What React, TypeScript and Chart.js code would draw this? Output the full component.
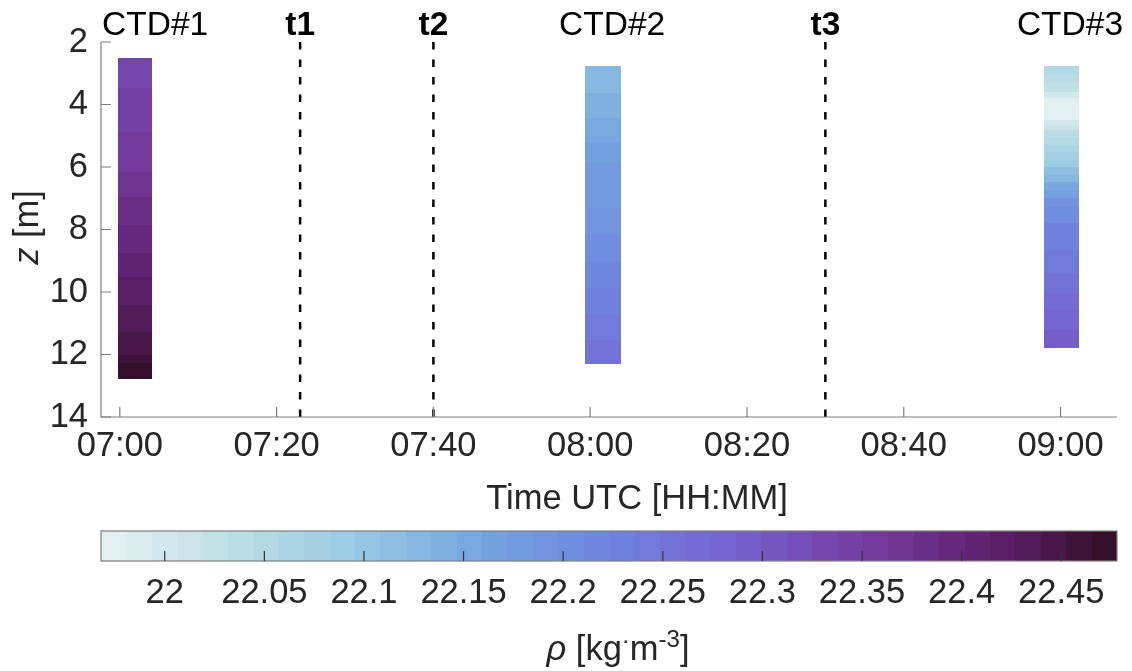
import React, { useEffect, useRef } from 'react';
import { Chart, registerables } from 'chart.js';

Chart.register(...registerables);

const FONT = '"Liberation Sans", Arial, Helvetica, sans-serif';
const TEXT = '#262626';
const AXIS = '#7f7f7f';
const FS = 34.5;

// ---- time axis (minutes after 07:00 UTC) ----
const X_MIN = -2.4;
const X_MAX = 127.2;
const X_TICKS = [0, 20, 40, 60, 80, 100, 120];
const X_TICK_LABELS = ['07:00', '07:20', '07:40', '08:00', '08:20', '08:40', '09:00'];
const X_TITLE = 'Time UTC [HH:MM]';

// ---- depth axis ----
const Y_MIN = 2;
const Y_MAX = 14;
const Y_TICKS = [2, 4, 6, 8, 10, 12, 14];

// ---- event markers ----
const EVENT_LABELS = ['t1', 't2', 't3'];
const EVENT_TIMES = [23, 40, 90];

// ---- casts ----
const CAST_LABELS = ['CTD#1', 'CTD#2', 'CTD#3'];
const CAST_LABEL_TIMES = [4.5, 62.8, 121.2];
const CAST_START = [-0.25, 59.4, 117.9];
const CAST_END = [4.1, 63.9, 122.3];

// layer edges (m) and density (kg m^-3) per cast
const CTD1_Z = [2.52, 3.48, 4.87, 6.15, 6.95, 7.86, 8.75, 9.51, 10.42, 11.27, 12.02, 12.28, 12.79];
const CTD1_RHO = [22.331, 22.344, 22.357, 22.369, 22.382, 22.395, 22.408, 22.42, 22.433, 22.446, 22.459, 22.471];

const CTD2_Z = [2.76, 3.64, 4.44, 5.19, 5.88, 7.32, 8.18, 9.03, 9.88, 10.74, 11.54, 12.29];
const CTD2_RHO = [22.127, 22.14, 22.153, 22.166, 22.178, 22.191, 22.204, 22.217, 22.229, 22.242, 22.255];

const CTD3_Z = [2.76, 3.06, 3.32, 3.59, 3.8, 4.5, 4.66, 4.82, 5.03, 5.3, 5.51, 5.78, 5.99, 6.26, 6.47, 6.74, 7.0, 7.27, 7.8, 8.66, 9.4, 10.04, 10.58, 11.22, 11.78];
const CTD3_RHO = [22.051, 22.038, 22.025, 22.0, 21.974, 22.0, 22.012, 22.038, 22.051, 22.064, 22.076, 22.089, 22.115, 22.127, 22.153, 22.166, 22.191, 22.204, 22.229, 22.242, 22.255, 22.268, 22.28, 22.293];

const CAST_Z = [CTD1_Z, CTD2_Z, CTD3_Z];
const CAST_RHO = [CTD1_RHO, CTD2_RHO, CTD3_RHO];

// ---- colour bar ----
const CBAR_MIN = 21.968;
const CBAR_MAX = 22.478;
const CBAR_LEVELS = 40;
const CBAR_TICKS = [22, 22.05, 22.1, 22.15, 22.2, 22.25, 22.3, 22.35, 22.4, 22.45];
const CBAR_TICK_LABELS = ['22', '22.05', '22.1', '22.15', '22.2', '22.25', '22.3', '22.35', '22.4', '22.45'];

// cmocean "dense"-like colormap stops
const CMAP_POS = [0, 0.125, 0.25, 0.375, 0.5, 0.625, 0.75, 0.875, 1];
const CMAP_RGB = [
  [230, 241, 241],
  [190, 223, 230],
  [154, 202, 225],
  [117, 163, 224],
  [111, 132, 222],
  [118, 98, 207],
  [116, 60, 158],
  [94, 32, 110],
  [48, 14, 34],
];

function cmapAt(f: number): string {
  const t = Math.max(0, Math.min(1, f));
  let i = 0;
  while (i < CMAP_POS.length - 2 && t > CMAP_POS[i + 1]) i++;
  const a = CMAP_POS[i];
  const b = CMAP_POS[i + 1];
  const u = (t - a) / (b - a);
  const c = CMAP_RGB[i].map((v, k) => Math.round(v + (CMAP_RGB[i + 1][k] - v) * u));
  return `rgb(${c[0]},${c[1]},${c[2]})`;
}

function levelColor(level: number): string {
  return cmapAt((level + 0.5) / CBAR_LEVELS);
}

function valueColor(v: number): string {
  let lv = Math.floor(((v - CBAR_MIN) / (CBAR_MAX - CBAR_MIN)) * CBAR_LEVELS);
  lv = Math.max(0, Math.min(CBAR_LEVELS - 1, lv));
  return levelColor(lv);
}

const castPlugin = {
  id: 'castCells',
  beforeDatasetsDraw(chart: any) {
    const { ctx, scales } = chart;
    const xs = scales.x;
    const ys = scales.y;
    ctx.save();
    for (let c = 0; c < CAST_Z.length; c++) {
      const x0 = Math.round(xs.getPixelForValue(CAST_START[c]));
      const x1 = Math.round(xs.getPixelForValue(CAST_END[c]));
      const z = CAST_Z[c];
      const r = CAST_RHO[c];
      for (let i = 0; i < r.length; i++) {
        const y0 = Math.round(ys.getPixelForValue(z[i]));
        const y1 = Math.round(ys.getPixelForValue(z[i + 1]));
        ctx.fillStyle = valueColor(r[i]);
        ctx.fillRect(x0, y0, x1 - x0, y1 - y0);
      }
    }
    ctx.restore();
  },
  afterDraw(chart: any) {
    const { ctx, chartArea, scales } = chart;
    const xs = scales.x;
    const ys = scales.y;
    ctx.save();
    // axis lines
    ctx.strokeStyle = AXIS;
    ctx.lineWidth = 1.2;
    ctx.beginPath();
    ctx.moveTo(chartArea.left, chartArea.top);
    ctx.lineTo(chartArea.left, chartArea.bottom);
    ctx.lineTo(chartArea.right, chartArea.bottom);
    ctx.stroke();
    // inward ticks
    ctx.beginPath();
    for (const v of X_TICKS) {
      const p = xs.getPixelForValue(v);
      ctx.moveTo(p, chartArea.bottom);
      ctx.lineTo(p, chartArea.bottom - 10);
    }
    for (const v of Y_TICKS) {
      const p = ys.getPixelForValue(v);
      ctx.moveTo(chartArea.left, p);
      ctx.lineTo(chartArea.left + 10, p);
    }
    ctx.stroke();

    // labels above the axes
    ctx.fillStyle = '#000';
    ctx.textAlign = 'center';
    ctx.textBaseline = 'alphabetic';
    ctx.font = `${FS - 1}px ${FONT}`;
    for (let i = 0; i < CAST_LABELS.length; i++) {
      ctx.fillText(CAST_LABELS[i], xs.getPixelForValue(CAST_LABEL_TIMES[i]), 35);
    }
    ctx.font = `bold ${FS - 1}px ${FONT}`;
    for (let i = 0; i < EVENT_LABELS.length; i++) {
      ctx.fillText(EVENT_LABELS[i], xs.getPixelForValue(EVENT_TIMES[i]), 35);
    }

    // x-axis title
    ctx.fillStyle = TEXT;
    ctx.font = `${FS}px ${FONT}`;
    ctx.textBaseline = 'middle';
    ctx.fillText(X_TITLE, 637, 499);

    // y-axis title with italic z
    ctx.translate(28, (chartArea.top + chartArea.bottom) / 2 - 2);
    ctx.rotate(-Math.PI / 2);
    ctx.textAlign = 'left';
    const fItal = `italic ${FS}px ${FONT}`;
    const fNorm = `${FS}px ${FONT}`;
    ctx.font = fItal;
    const w1 = ctx.measureText('z').width;
    ctx.font = fNorm;
    const w2 = ctx.measureText(' [m]').width;
    const start = -(w1 + w2) / 2;
    ctx.font = fItal;
    ctx.fillText('z', start, 0);
    ctx.font = fNorm;
    ctx.fillText(' [m]', start + w1, 0);
    ctx.restore();
  },
};

const cbarPlugin = {
  id: 'cbar',
  beforeDatasetsDraw(chart: any) {
    const { ctx, chartArea, scales } = chart;
    const xs = scales.x;
    const step = (CBAR_MAX - CBAR_MIN) / CBAR_LEVELS;
    ctx.save();
    for (let k = 0; k < CBAR_LEVELS; k++) {
      const a = Math.round(xs.getPixelForValue(CBAR_MIN + k * step));
      const b = Math.round(xs.getPixelForValue(CBAR_MIN + (k + 1) * step));
      ctx.fillStyle = levelColor(k);
      ctx.fillRect(a, chartArea.top, b - a, chartArea.bottom - chartArea.top);
    }
    ctx.strokeStyle = AXIS;
    ctx.lineWidth = 1.2;
    ctx.strokeRect(chartArea.left, chartArea.top, chartArea.right - chartArea.left, chartArea.bottom - chartArea.top);
    ctx.strokeStyle = '#333';
    ctx.beginPath();
    for (const v of CBAR_TICKS) {
      const p = xs.getPixelForValue(v);
      ctx.moveTo(p, chartArea.bottom);
      ctx.lineTo(p, chartArea.bottom - 10);
    }
    ctx.stroke();

    // title: rho [kg·m^-3]
    const fItal = `italic ${FS}px ${FONT}`;
    const fNorm = `${FS}px ${FONT}`;
    const fSup = `${Math.round(FS * 0.7)}px ${FONT}`;
    const parts: [string, string, number][] = [
      ['\u03C1', fItal, 0],
      [' [kg', fNorm, 0],
      ['\u00B7', fSup, -12],
      ['m', fNorm, 0],
      ['-3', fSup, -13],
      [']', fNorm, 0],
    ];
    let total = 0;
    const widths: number[] = [];
    for (const [t, f] of parts) {
      ctx.font = f;
      const w = ctx.measureText(t).width;
      widths.push(w);
      total += w;
    }
    let x = 618 - total / 2;
    const base = 140;
    ctx.fillStyle = TEXT;
    ctx.textAlign = 'left';
    ctx.textBaseline = 'alphabetic';
    parts.forEach(([t, f, dy], i) => {
      ctx.font = f;
      ctx.fillText(t, x, base + dy);
      x += widths[i];
    });
    ctx.restore();
  },
};

export default function App() {
  const mainRef = useRef<HTMLCanvasElement>(null);
  const cbarRef = useRef<HTMLCanvasElement>(null);

  useEffect(() => {
    const lineDatasets = EVENT_TIMES.map((t, i) => ({
      label: EVENT_LABELS[i],
      data: [
        { x: t, y: Y_MIN },
        { x: t, y: Y_MAX },
      ],
      showLine: true,
      borderColor: '#000',
      borderWidth: 2.5,
      borderDash: [7.5, 10],
      pointRadius: 0,
      fill: false,
    }));

    const main = new Chart(mainRef.current!, {
      type: 'scatter',
      data: { datasets: lineDatasets as any },
      options: {
        animation: false,
        responsive: false,
        devicePixelRatio: 1,
        layout: { padding: { top: 42, right: 15, left: 0, bottom: 0 } },
        plugins: { legend: { display: false }, tooltip: { enabled: false } },
        scales: {
          x: {
            type: 'linear',
            min: X_MIN,
            max: X_MAX,
            grid: { display: false, drawTicks: false },
            border: { display: false },
            afterBuildTicks: (s: any) => {
              s.ticks = X_TICKS.map((v) => ({ value: v }));
            },
            afterFit: (s: any) => {
              s.height = 103;
            },
            ticks: {
              padding: 9,
              autoSkip: false,
              maxRotation: 0,
              color: TEXT,
              font: { family: FONT, size: FS },
              callback: (_v: any, i: number) => X_TICK_LABELS[i],
            },
            title: { display: false },
          },
          y: {
            type: 'linear',
            reverse: true,
            min: Y_MIN,
            max: Y_MAX,
            grid: { display: false, drawTicks: false },
            border: { display: false },
            afterBuildTicks: (s: any) => {
              s.ticks = Y_TICKS.map((v) => ({ value: v }));
            },
            afterFit: (s: any) => {
              s.width = 101;
            },
            ticks: {
              padding: 13,
              color: TEXT,
              font: { family: FONT, size: FS },
              callback: (v: any) => String(v),
            },
          },
        },
      },
      plugins: [castPlugin],
    });

    const cbar = new Chart(cbarRef.current!, {
      type: 'scatter',
      data: { datasets: [{ data: [], pointRadius: 0 }] },
      options: {
        animation: false,
        responsive: false,
        devicePixelRatio: 1,
        layout: { padding: { top: 11, right: 15, left: 101, bottom: 0 } },
        plugins: { legend: { display: false }, tooltip: { enabled: false } },
        scales: {
          x: {
            type: 'linear',
            min: CBAR_MIN,
            max: CBAR_MAX,
            grid: { display: false, drawTicks: false },
            border: { display: false },
            afterBuildTicks: (s: any) => {
              s.ticks = CBAR_TICKS.map((v) => ({ value: v }));
            },
            afterFit: (s: any) => {
              s.height = 110;
            },
            ticks: {
              padding: 12,
              autoSkip: false,
              maxRotation: 0,
              color: TEXT,
              font: { family: FONT, size: FS },
              callback: (_v: any, i: number) => CBAR_TICK_LABELS[i],
            },
          },
          y: { display: false, min: 0, max: 1 },
        },
      },
      plugins: [cbarPlugin],
    });

    return () => {
      main.destroy();
      cbar.destroy();
    };
  }, []);

  return (
    <div style={{ position: 'absolute', left: 0, top: 0, width: 1132, height: 671, background: '#fff' }}>
      <canvas ref={mainRef} width={1132} height={520} style={{ position: 'absolute', left: 0, top: 0 }} />
      <canvas ref={cbarRef} width={1132} height={151} style={{ position: 'absolute', left: 0, top: 520 }} />
    </div>
  );
}
